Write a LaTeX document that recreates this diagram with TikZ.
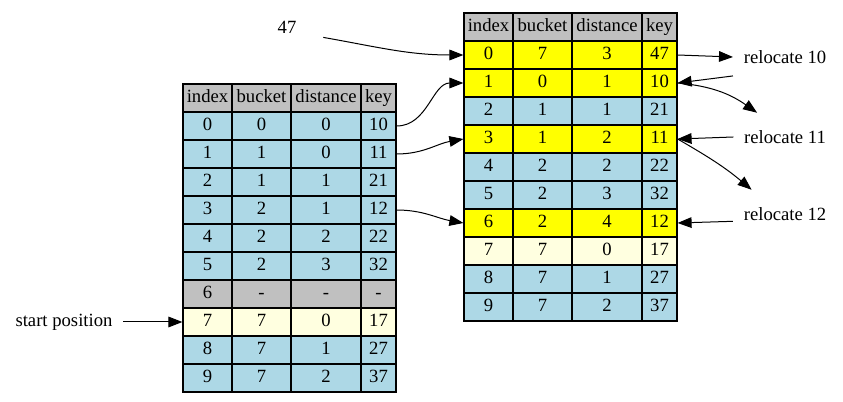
\documentclass[tikz,border=0pt]{standalone}
\usepackage{fontspec}
\setmainfont{Liberation Serif}
\usetikzlibrary{arrows.meta}
\definecolor{slotblue}{HTML}{ADD8E6}
\definecolor{slotgrey}{HTML}{C0C0C0}
\definecolor{slotpale}{HTML}{FFFFE0}
\definecolor{slotyellow}{HTML}{FFFF00}
\tikzstyle{cell} = [rectangle, draw=black, line width=0.9pt, minimum height=21pt, inner sep=0pt, text height=9.5pt, text depth=3pt, text centered, font=\fontsize{14}{16}\selectfont]
\tikzstyle{plain} = [rectangle, minimum width=54pt, minimum height=36pt, inner xsep=7.92pt, font=\fontsize{14}{16}\selectfont]
\tikzstyle{arrow} = [line width=0.75pt, ->, >={Triangle[length=10.5pt, width=8pt]}]

\begin{document}
\begin{tikzpicture}[x=0.75pt, y=0.75pt]
\useasboundingbox (0,0) rectangle (843,-402);

\foreach \n/\vi/\vb/\vd/\vk/\vf in {0/index/bucket/distance/key/slotgrey, 1/0/0/0/10/slotblue, 2/1/1/0/11/slotblue, 3/2/1/1/21/slotblue, 4/3/2/1/12/slotblue, 5/4/2/2/22/slotblue, 6/5/2/3/32/slotblue, 7/6/-/-/-/slotgrey, 8/7/7/0/17/slotpale, 9/8/7/1/27/slotblue, 10/9/7/2/37/slotblue} {
\node (L-\n-idx) [cell, fill=\vf, minimum width=36.75pt] at (207.5,-98-28*\n) {\vi};
\node (L-\n-bkt) [cell, fill=\vf, minimum width=44.25pt] at (261.5,-98-28*\n) {\vb};
\node (L-\n-dist) [cell, fill=\vf, minimum width=52.5pt] at (326,-98-28*\n) {\vd};
\node (L-\n-key) [cell, fill=\vf, minimum width=26.25pt] at (378.5,-98-28*\n) {\vk};
}

\foreach \n/\vi/\vb/\vd/\vk/\vf in {0/index/bucket/distance/key/slotgrey, 1/0/7/3/47/slotyellow, 2/1/0/1/10/slotyellow, 3/2/1/1/21/slotblue, 4/3/1/2/11/slotyellow, 5/4/2/2/22/slotblue, 6/5/2/3/32/slotblue, 7/6/2/4/12/slotyellow, 8/7/7/0/17/slotpale, 9/8/7/1/27/slotblue, 10/9/7/2/37/slotblue} {
\node (R-\n-idx) [cell, fill=\vf, minimum width=36.75pt] at (488.5,-27-28*\n) {\vi};
\node (R-\n-bkt) [cell, fill=\vf, minimum width=44.25pt] at (542.5,-27-28*\n) {\vb};
\node (R-\n-dist) [cell, fill=\vf, minimum width=52.5pt] at (607,-27-28*\n) {\vd};
\node (R-\n-key) [cell, fill=\vf, minimum width=26.25pt] at (659.5,-27-28*\n) {\vk};
}

\node (num) [plain] at (287,-27) {47};
\node (start) [plain] at (64,-322) {start position};
\node (r10) [plain] at (785,-57) {relocate 10};
\node (r11) [plain] at (785,-137) {relocate 11};
\node (r12) [plain] at (785,-214) {relocate 12};

\draw [arrow] (start) -- (L-8-idx);
\draw [arrow] (num.-16) to[out=-10, in=180] (R-1-idx.west);
\draw [arrow] (L-1-key.east) to[out=0, in=180] (R-2-idx.west);
\draw [arrow] (L-2-key.east) to[out=0, in=190] (R-4-idx.west);
\draw [arrow] (L-4-key.east) to[out=0, in=170] (R-7-idx.west);
\draw [arrow] (R-1-key.east) -- (r10.west);
\draw [arrow] (r10.200) -- (R-2-key.east);
\draw [arrow] (R-2-key.east) to[out=-5, in=145] (r11.139);
\draw [arrow] (r11.west) -- (R-4-key.east);
\draw [arrow] (R-4-key.east) to[out=-30, in=140] (r12.144);
\draw [arrow] (r12.188) -- (R-7-key.east);

\end{tikzpicture}
\end{document}
